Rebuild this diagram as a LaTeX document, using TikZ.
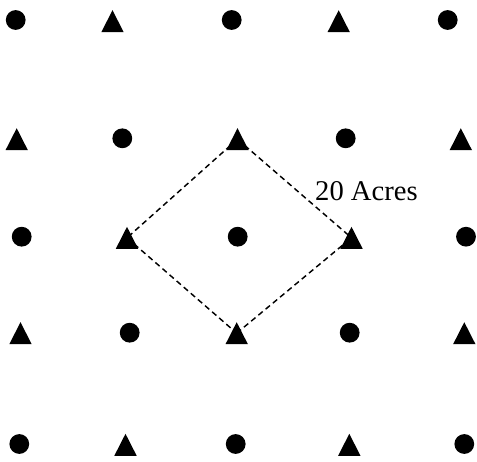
\documentclass[tikz,border=0pt]{standalone}
\usepackage{fontspec}
\setmainfont{Liberation Serif}
\begin{document}
\begin{tikzpicture}[x=1pt,y=-1pt,
  dot/.style={circle,fill=black,draw=none,minimum size=19.8pt,inner sep=0pt},
  tri/.style={rectangle,draw=none,minimum width=22.4pt,minimum height=22pt,inner sep=0pt,
    path picture={\fill[black] (path picture bounding box.south west) -- (path picture bounding box.south east) -- (path picture bounding box.north) -- cycle;}},
  plot/.style={line width=1.45pt,dash pattern=on 5.6pt off 3.8pt},
  lbl/.style={inner sep=0pt,anchor=base west,font=\fontsize{28.6}{30}\selectfont}]
\useasboundingbox (0,0) rectangle (477,462);
% row 1
\node[dot] (c11) at (15.7,20) {};
\node[tri] (t12) at (112.5,21.2) {};
\node[dot] (c13) at (231.7,20) {};
\node[tri] (t14) at (338.7,21.2) {};
\node[dot] (c15) at (447.7,20) {};
% row 2
\node[tri] (t21) at (16.7,139.2) {};
\node[dot] (c22) at (122.3,138.3) {};
\node[tri] (t23) at (237.5,139.2) {};
\node[dot] (c24) at (345.7,138.3) {};
\node[tri] (t25) at (460.8,139.2) {};
% row 3
\node[dot] (c31) at (21.7,236.7) {};
\node[tri] (t32) at (127,237.8) {};
\node[dot] (c33) at (237.7,236.7) {};
\node[tri] (t34) at (351.5,237.8) {};
\node[dot] (c35) at (466,236.7) {};
% row 4
\node[tri] (t41) at (20.5,333.2) {};
\node[dot] (c42) at (129.7,332.7) {};
\node[tri] (t43) at (236.7,333.2) {};
\node[dot] (c44) at (349.7,332.7) {};
\node[tri] (t45) at (464.3,333.2) {};
% row 5
\node[dot] (c51) at (19.3,444) {};
\node[tri] (t52) at (125.5,444.8) {};
\node[dot] (c53) at (235.7,444) {};
\node[tri] (t54) at (349.3,444.8) {};
\node[dot] (c55) at (464.3,444) {};
% dashed diamond
\draw[plot] (t23.center) -- (t32.center);
\draw[plot] (t32.center) -- (t43.center);
\draw[plot] (t43.center) -- (t34.center);
\draw[plot] (t23.center) -- (t34.center);
% label
\node[lbl] (acres) at (315,200.7) {20 Acres};
\end{tikzpicture}
\end{document}
